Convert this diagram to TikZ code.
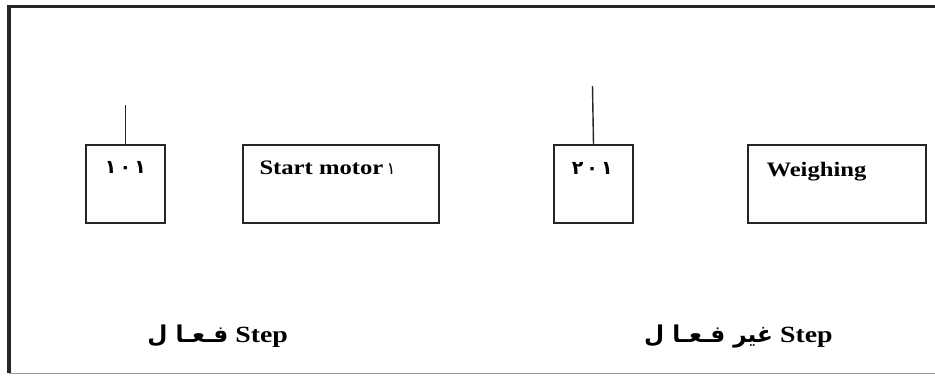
\documentclass[tikz,border=0pt]{standalone}
\usepackage{fontspec}
\setmainfont{Liberation Serif}
\newfontfamily\arabicfont[Script=Arabic]{DejaVu Sans}
\newfontfamily\wideserif[FakeStretch=1.2]{Liberation Serif}
\TeXXeTstate=1
\usetikzlibrary{positioning, calc}

\begin{document}
\begin{tikzpicture}[
    stepbox/.style={rectangle, draw=black!85, line width=1.1pt, minimum width=1.975cm, minimum height=1.95cm, inner sep=0pt},
    actionbox/.style={stepbox, minimum width=4.9cm},
    weighbox/.style={stepbox, minimum width=4.45cm},
    link/.style={draw=black!85, line width=1pt},
    boxtext/.style={font=\wideserif\bfseries\fontsize{14.6}{17}\selectfont, inner sep=0pt, anchor=base west},
    stepnum/.style={font=\arabicfont\bfseries\fontsize{13.5}{15}\selectfont, inner sep=0pt},
    caption/.style={font=\wideserif\bfseries\fontsize{16.5}{19}\selectfont, inner sep=0pt, anchor=base},
]
    \useasboundingbox (0,0) rectangle (23.375,9.4);

    % Frame
    \draw[line width=2.2pt, black!85] (0.225,0.075) -- (0.225,9.24) -- (23.375,9.24);
    \draw[line width=0.7pt, black!40] (0.225,0.075) -- (23.375,0.075);

    % Active step
    \node[stepbox] (s101) at (3.1375,4.8) {};
    \node[stepnum] (n101) at ($(s101.north)+(0,-0.57)$) {١\,٠\,١};
    \coordinate (in101) at ($(s101.north)+(0,0.975)$);
    \draw[link] (s101.north) -- (in101);
    \node[actionbox] (motor) at (8.525,4.8) {};
    \node[boxtext] (motortext) at ($(motor.north west)+(0.425,-0.75)$) {Start motor\,{\arabicfont\mdseries\fontsize{12}{13}\selectfont ١}};

    % Inactive step
    \node[stepbox] (s201) at (14.8375,4.8) {};
    \node[stepnum] (n201) at ($(s201.north)+(-0.03,-0.6)$) {٢\,٠\,١};
    \coordinate (in201) at ($(s201.north)+(-0.025,1.45)$);
    \draw[link] (s201.north) -- (in201);
    \node[weighbox] (weigh) at (20.925,4.8) {};
    \node[boxtext] (weightext) at ($(weigh.north west)+(0.475,-0.8)$) {Weighing};

    % Captions
    \node[caption] (cap1) at (5.44,0.85) {{\arabicfont\fontsize{16.5}{19}\selectfont\beginR فـعـا ل\endR} Step};
    \node[caption] (cap2) at (18.46,0.85) {{\arabicfont\fontsize{16.5}{19}\selectfont\beginR غير فـعـا ل\endR} Step};

\end{tikzpicture}
\end{document}
